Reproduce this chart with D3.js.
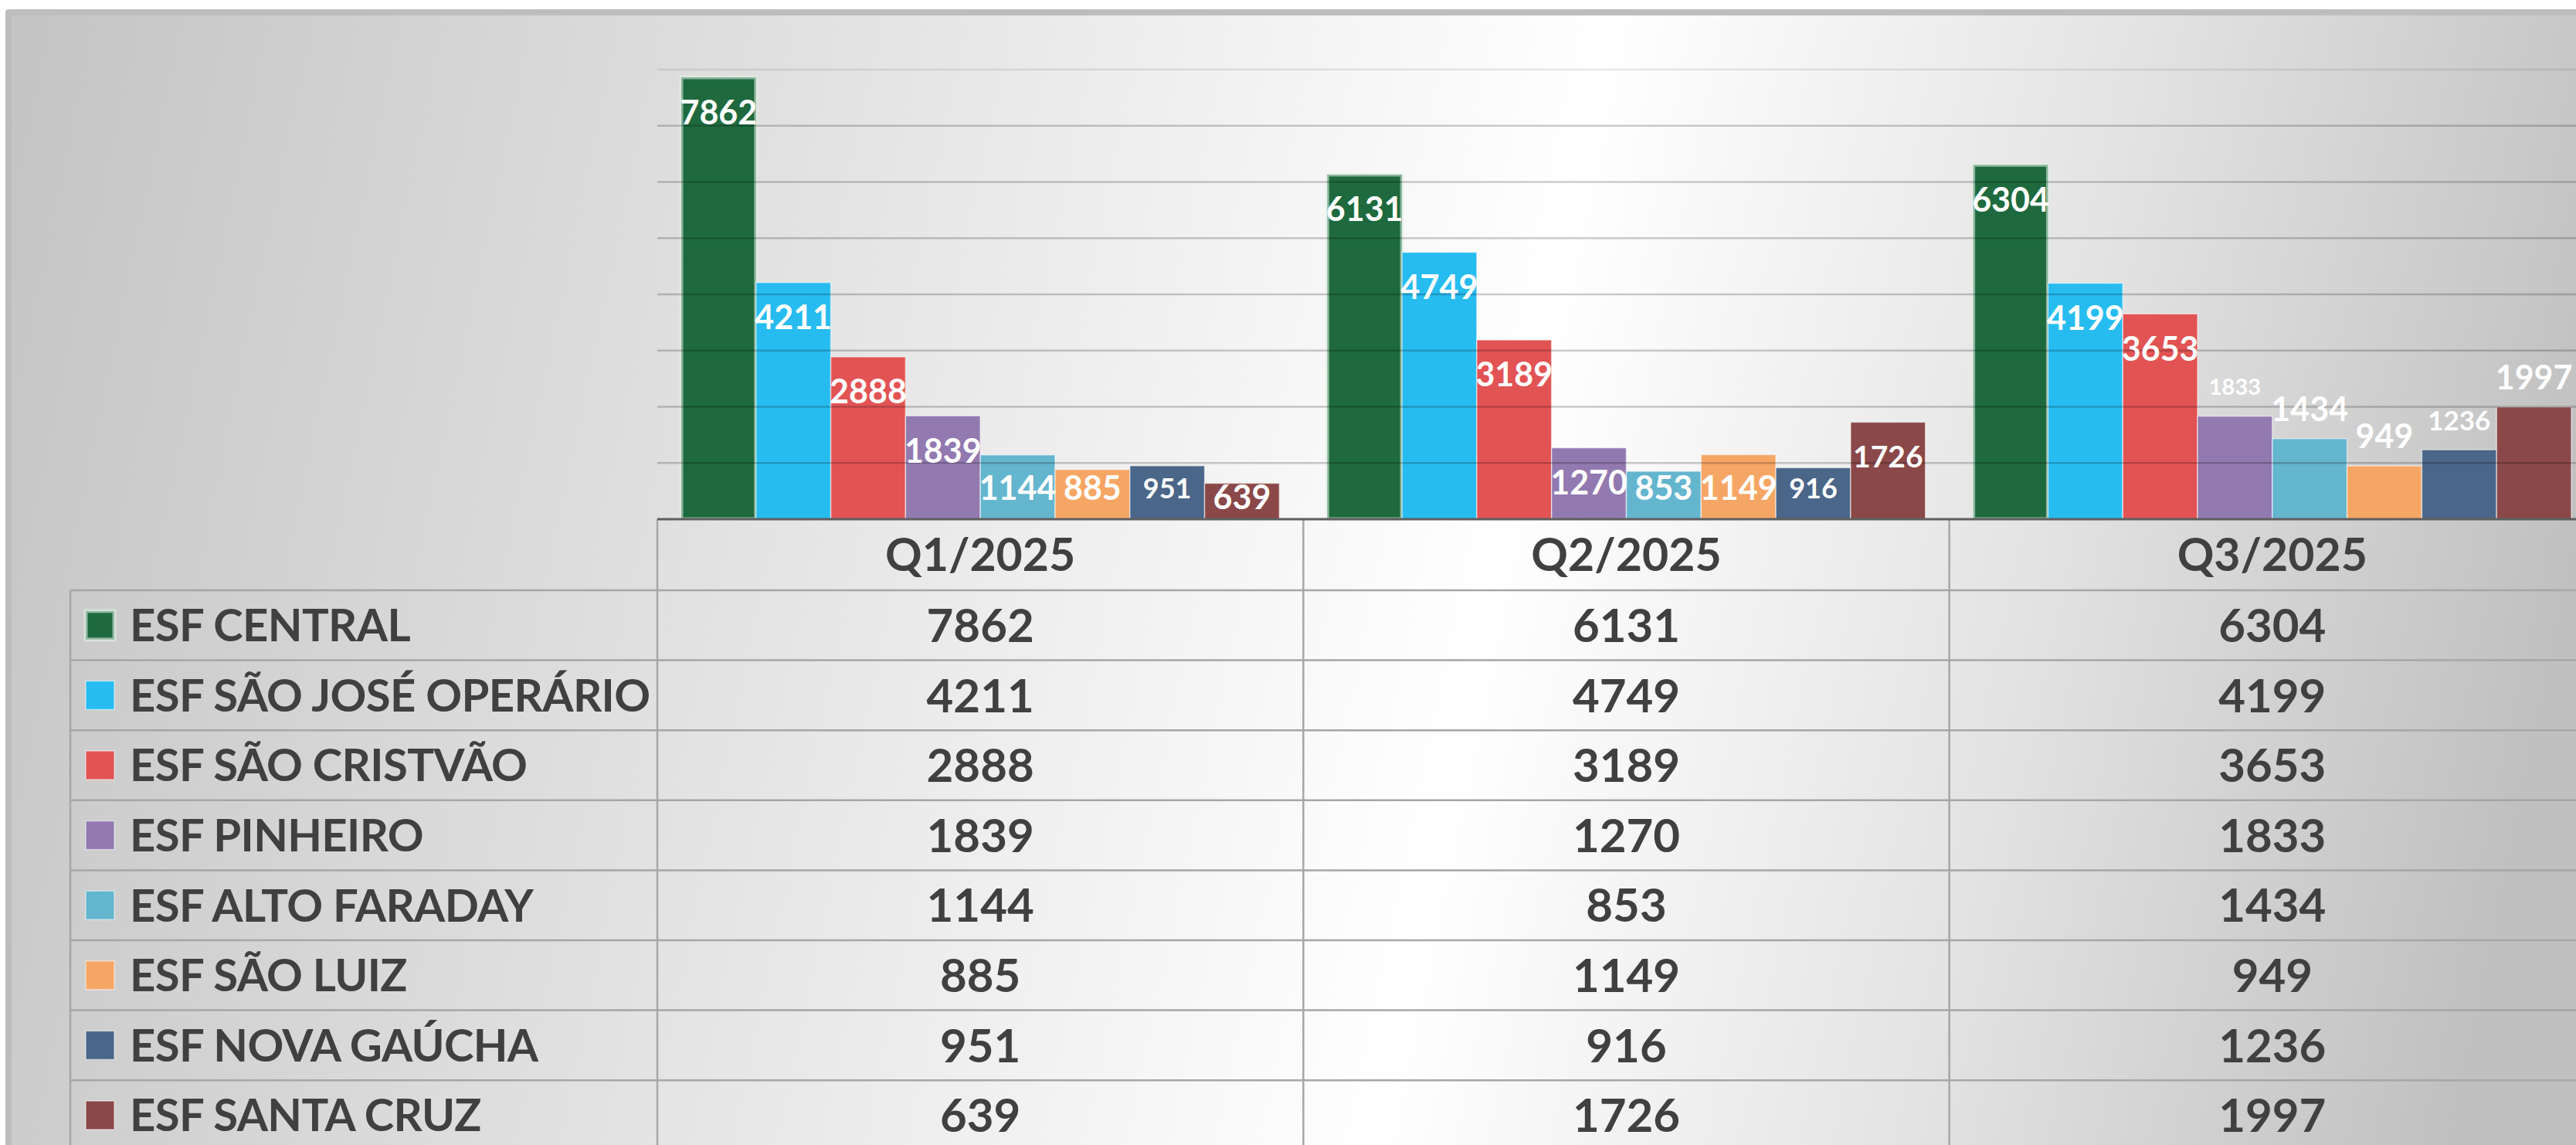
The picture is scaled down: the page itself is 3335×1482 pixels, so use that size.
<!DOCTYPE html>
<html>
<head>
<meta charset="utf-8">
<script src="https://cdn.jsdelivr.net/npm/d3@7"></script>
<style>
  body { margin: 0; background: #fff; }
  svg { display: block; font-family: Lato, "Open Sans", sans-serif; font-weight: 700; }
</style>
</head>
<body>
<div id="chart"></div>
<script>
// data
const quarters = ["Q1/2025", "Q2/2025", "Q3/2025"];
const units = ["ESF CENTRAL", "ESF SÃO JOSÉ OPERÁRIO", "ESF SÃO CRISTVÃO", "ESF PINHEIRO",
    "ESF ALTO FARADAY", "ESF SÃO LUIZ", "ESF NOVA GAÚCHA", "ESF SANTA CRUZ"];
const central = [7862, 6131, 6304];
const saoJose = [4211, 4749, 4199];
const saoCristvao = [2888, 3189, 3653];
const pinheiro = [1839, 1270, 1833];
const altoFaraday = [1144, 853, 1434];
const saoLuiz = [885, 1149, 949];
const novaGaucha = [951, 916, 1236];
const santaCruz = [639, 1726, 1997];
const yTicks = [1000, 2000, 3000, 4000, 5000, 6000, 7000, 8000];

const series = [central, saoJose, saoCristvao, pinheiro, altoFaraday, saoLuiz, novaGaucha, santaCruz];
const colors = ["#1e6a3e", "#27bcf0", "#e25354", "#9279b0", "#64b5ce", "#f6a664", "#4a6689", "#8a4848"];

// label styling (key = quarter index - series index)
const smallLabels = { "0-6": 36, "1-6": 36, "1-7": 39, "2-3": 29, "2-6": 35 };
const outsideLabels = new Set(["2-3", "2-4", "2-5", "2-6", "2-7"]);

const W = 3335, H = 1482;
const margin = { left: 851, top: 90, right: 3360 };
const baseY = 672;
const headerBottom = 764;
const rowH = 90.6;
const legendLeft = 91;

const svg = d3.select("#chart").append("svg")
    .attr("width", W)
    .attr("height", H);

const defs = svg.append("defs");
const grad = defs.append("linearGradient")
    .attr("id", "bg")
    .attr("gradientUnits", "userSpaceOnUse")
    .attr("x1", 0).attr("y1", 0).attr("x2", W).attr("y2", 700);
[[0, "#c3c3c3"], [0.35, "#e6e6e6"], [0.6, "#ffffff"], [0.8, "#e3e3e3"], [1, "#c0c0c0"]]
    .forEach(s => grad.append("stop").attr("offset", s[0]).attr("stop-color", s[1]));

// chart frame
svg.append("rect")
    .attr("x", 7).attr("y", 12).attr("rx", 4)
    .attr("width", W + 20).attr("height", H + 20)
    .attr("fill", "#bdbdbd");
svg.append("rect")
    .attr("x", 15).attr("y", 20)
    .attr("width", W).attr("height", H)
    .attr("fill", "url(#bg)");

// scales
const x0 = d3.scaleBand()
    .domain(quarters)
    .range([margin.left, margin.right])
    .paddingInner(0).paddingOuter(0);

const x1 = d3.scaleBand()
    .domain(units)
    .range([0, x0.bandwidth()])
    .paddingInner(0).paddingOuter(0.32);

const y = d3.scaleLinear()
    .domain([0, 8000])
    .range([baseY, margin.top]);

// bars
const barData = [];
quarters.forEach((q, qi) => {
    units.forEach((u, si) => {
        barData.push({ q: q, qi: qi, u: u, si: si, value: series[si][qi] });
    });
});

svg.append("g").selectAll("rect")
    .data(barData)
    .enter().append("rect")
    .attr("x", d => x0(d.q) + x1(d.u))
    .attr("y", d => y(d.value))
    .attr("width", x1.bandwidth())
    .attr("height", d => baseY - y(d.value))
    .attr("fill", d => colors[d.si])
    .attr("stroke", d => d.si === 0 ? "rgba(225,240,230,0.55)" : "rgba(255,255,255,0.55)")
    .attr("stroke-width", d => d.si === 0 ? 5 : 1.5);

// gridlines, drawn over bars so they show through like in the original
svg.append("g").selectAll("line")
    .data(yTicks)
    .enter().append("line")
    .attr("x1", margin.left).attr("x2", W)
    .attr("y1", d => y(d)).attr("y2", d => y(d))
    .attr("stroke", d => d === 8000 ? "rgba(0,0,0,0.09)" : "rgba(0,0,0,0.2)")
    .attr("stroke-width", 2.5);

// bar labels
svg.append("g").selectAll("text")
    .data(barData)
    .enter().append("text")
    .attr("x", d => x0(d.q) + x1(d.u) + x1.bandwidth() / 2)
    .attr("y", d => {
        const top = y(d.value);
        if (outsideLabels.has(d.qi + "-" + d.si)) return top - 38;
        return Math.min(top + 45, Math.max(top + 18, 632));
    })
    .attr("dy", "0.36em")
    .attr("text-anchor", "middle")
    .attr("fill", "#fff")
    .style("font-size", d => (smallLabels[d.qi + "-" + d.si] || 43) + "px")
    .text(d => d.value);

// data table
const table = svg.append("g");
const lineColor = "#a6a6a6";

// horizontal lines
const rowLines = d3.range(units.length + 1).map(i => headerBottom + i * rowH);
table.selectAll(".hline")
    .data(rowLines)
    .enter().append("line")
    .attr("x1", legendLeft).attr("x2", W)
    .attr("y1", d => d).attr("y2", d => d)
    .attr("stroke", lineColor).attr("stroke-width", 2.5);

// vertical lines
table.selectAll(".vline")
    .data(quarters)
    .enter().append("line")
    .attr("x1", d => x0(d)).attr("x2", d => x0(d))
    .attr("y1", baseY).attr("y2", H)
    .attr("stroke", lineColor).attr("stroke-width", 2.5);
table.append("line")
    .attr("x1", legendLeft).attr("x2", legendLeft)
    .attr("y1", headerBottom).attr("y2", H)
    .attr("stroke", lineColor).attr("stroke-width", 2.5);

// axis line
svg.append("line")
    .attr("x1", margin.left).attr("x2", W)
    .attr("y1", baseY).attr("y2", baseY)
    .attr("stroke", "#5f5f5f").attr("stroke-width", 3);

// header
table.selectAll(".head")
    .data(quarters)
    .enter().append("text")
    .attr("x", d => x0(d) + x0.bandwidth() / 2)
    .attr("y", (baseY + headerBottom) / 2)
    .attr("dy", "0.36em")
    .attr("text-anchor", "middle")
    .attr("fill", "#404040")
    .style("font-size", "59px")
    .text(d => d);

// legend column
const rows = table.selectAll(".row")
    .data(units)
    .enter().append("g")
    .attr("transform", (d, i) => "translate(0," + (headerBottom + i * rowH + rowH / 2) + ")");

rows.append("rect")
    .attr("x", 111).attr("y", -18.5)
    .attr("width", 37).attr("height", 37)
    .attr("fill", (d, i) => colors[i])
    .attr("stroke", (d, i) => i === 0 ? "rgba(225,240,230,0.6)" : "rgba(255,255,255,0.5)")
    .attr("stroke-width", (d, i) => i === 0 ? 5 : 1.5);

rows.append("text")
    .attr("x", 168)
    .attr("dy", "0.36em")
    .attr("fill", "#404040")
    .style("font-size", "58px")
    .style("letter-spacing", "-0.6px")
    .text(d => d);

// values
rows.each(function (u, si) {
    d3.select(this).selectAll(".val")
        .data(quarters)
        .enter().append("text")
        .attr("x", q => x0(q) + x0.bandwidth() / 2)
        .attr("dy", "0.36em")
        .attr("text-anchor", "middle")
        .attr("fill", "#404040")
        .style("font-size", "60px")
        .text((q, qi) => series[si][qi]);
});
</script>
</body>
</html>
